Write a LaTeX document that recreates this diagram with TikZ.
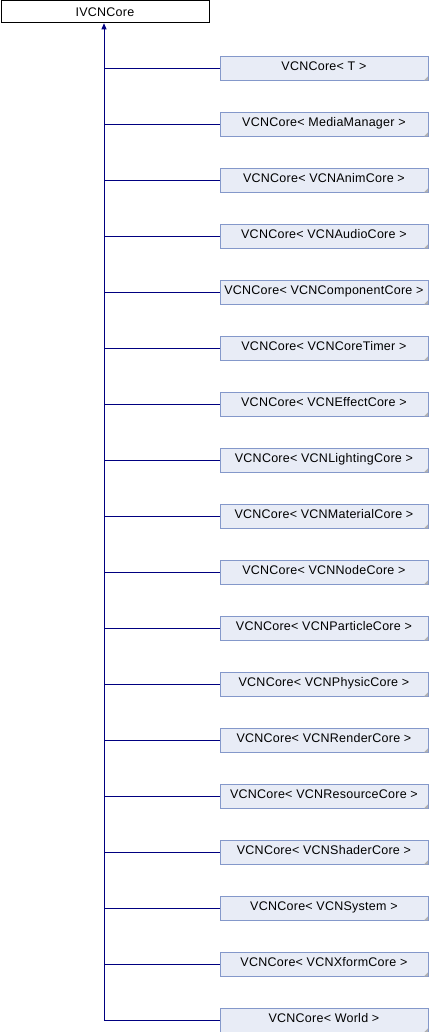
\documentclass[tikz,border=0pt]{standalone}
\usepackage{fontspec}
\setmainfont[LetterSpace=2]{Liberation Sans}
\usetikzlibrary{arrows.meta,calc}
\definecolor{boxfill}{HTML}{E8ECF6}
\definecolor{boxline}{HTML}{8498CA}
\definecolor{edge}{HTML}{000080}
\begin{document}
\begin{tikzpicture}[x=1pt,y=-1pt,
  base/.style={draw=black,fill=white,minimum width=208pt,minimum height=22pt,inner sep=0pt,font=\fontsize{12.5}{15}\selectfont,text height=9pt,text depth=-1pt,anchor=north west,line width=0.8pt},
  child/.style={draw=boxline,fill=boxfill,minimum width=208pt,minimum height=24pt,inner sep=0pt,font=\fontsize{12.5}{15}\selectfont,text height=9pt,text depth=4pt,anchor=north west,line width=0.8pt},
  inh/.style={draw=edge,line width=0.8pt}]
\useasboundingbox (0,0) rectangle (428,1032);
\node[base] (root) at (0.5,0.5) {IVCNCore};
\coordinate (trunk) at (104,23.5);
\foreach \i/\t in {0/T,1/MediaManager,2/VCNAnimCore,3/VCNAudioCore,4/VCNComponentCore,5/VCNCoreTimer,6/VCNEffectCore,7/VCNLightingCore,8/VCNMaterialCore,9/VCNNodeCore,10/VCNParticleCore,11/VCNPhysicCore,12/VCNRenderCore,13/VCNResourceCore,14/VCNShaderCore,15/VCNSystem,16/VCNXformCore,17/World}{
  \node[child] (c\i) at (219.5,{56+56*\i}) {VCNCore<~\t~>};
  \fill[gray!60] ($(c\i.south east)+(-0.4,-0.4)$) -- ++(0,-4) -- ++(-4,4) -- cycle;
  \draw[inh] (c\i.west) -| (104,40);
}
\draw[inh,-{Triangle[length=6pt,width=5pt]}] (104,40) -- (root.south -| trunk);
\end{tikzpicture}
\end{document}
